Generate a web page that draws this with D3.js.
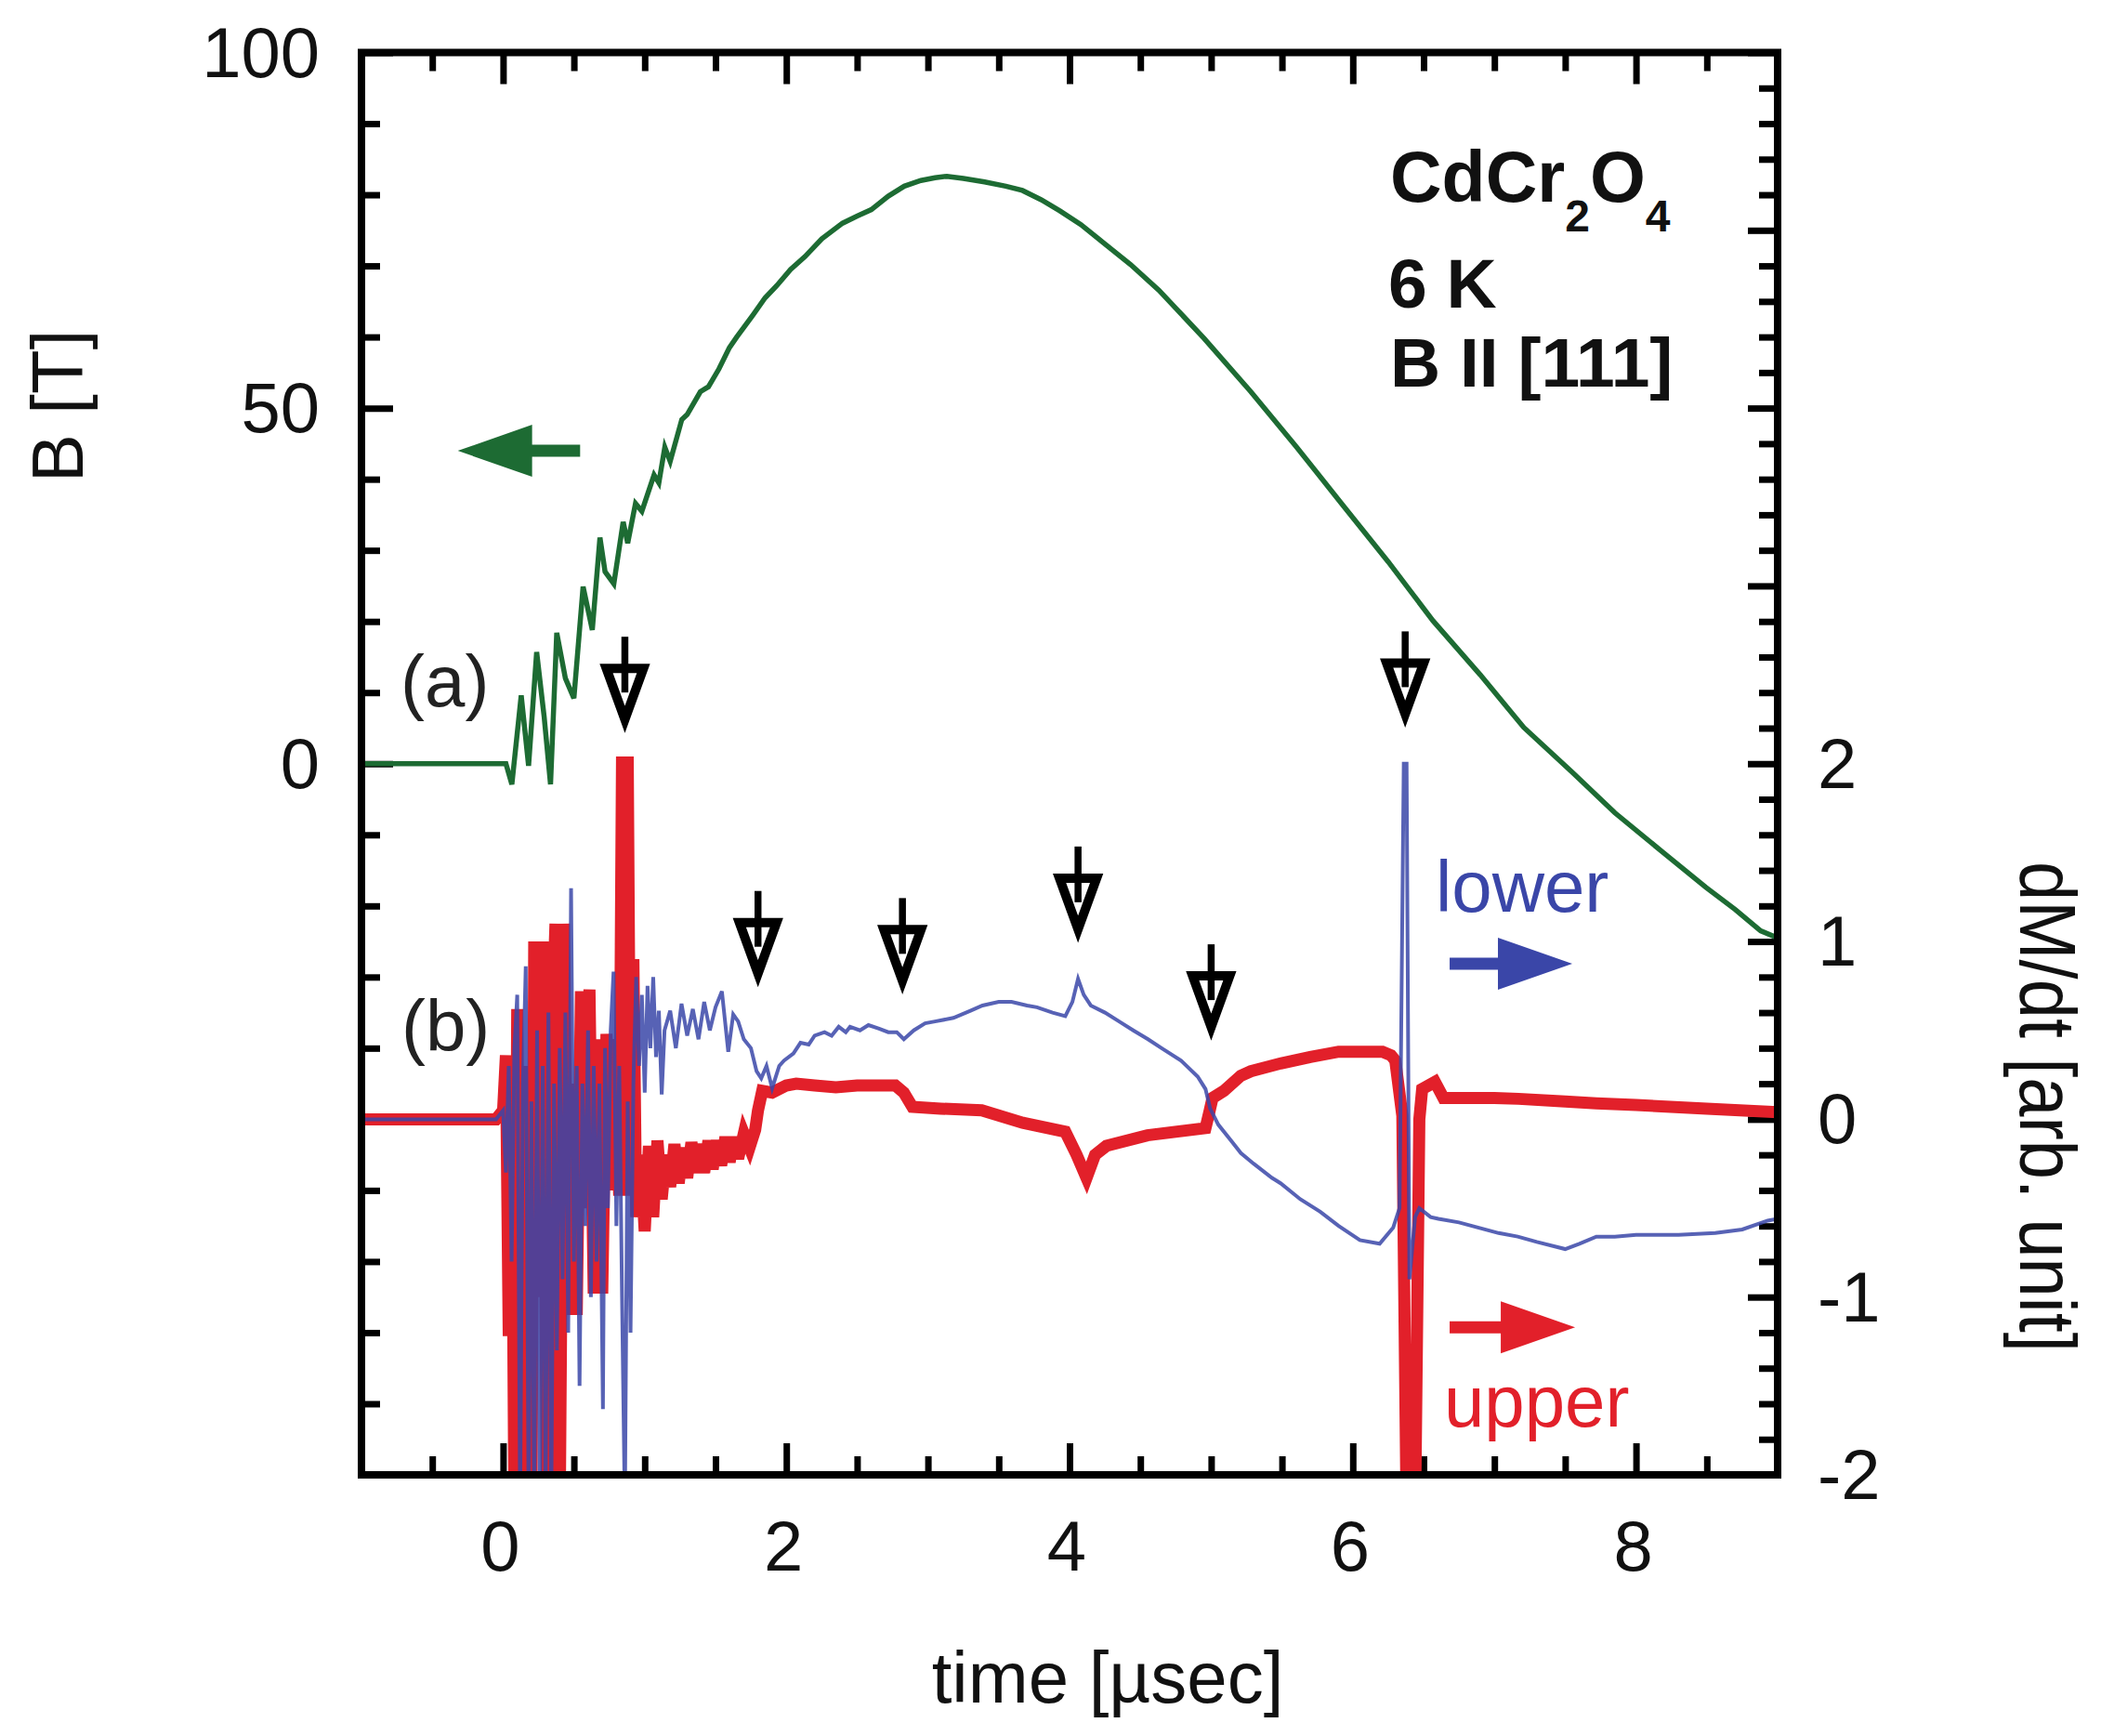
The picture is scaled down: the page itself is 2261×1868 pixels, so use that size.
<!DOCTYPE html>
<html>
<head>
<meta charset="utf-8">
<script src="https://cdn.jsdelivr.net/npm/d3@7"></script>
<style>
  body { margin: 0; background: #fff; }
  text { font-family: "Liberation Sans", Arial, Helvetica, sans-serif; }
</style>
</head>
<body>
<svg id="main"></svg>
<script>

// field B(t), left axis [T]
var tB = [-1, 0.0, 0.02, 0.062, 0.128, 0.18, 0.237, 0.29, 0.335, 0.379, 0.44, 0.5, 0.565, 0.63, 0.684, 0.72, 0.782, 0.848, 0.88, 0.935, 0.98,
  1.066, 1.10, 1.142, 1.18, 1.262, 1.30, 1.393, 1.45, 1.524, 1.598, 1.65, 1.765, 1.85, 1.932, 2.03, 2.132, 2.25, 2.397, 2.5, 2.6, 2.72,
  2.833, 2.95, 3.05, 3.134, 3.25, 3.4, 3.55, 3.667, 3.8, 3.934, 4.08, 4.23, 4.43, 4.63, 4.95, 5.28, 5.6, 5.92, 6.25, 6.566, 6.9, 7.207,
  7.55, 7.85, 8.18, 8.494, 8.7, 8.88, 9.0];
var fieldB = [0, 0, 0, -2.9, 9.6, -0.3, 15.7, 6.6, -2.9, 18.4, 12, 9.2, 24.9, 18.8, 31.8, 27, 25.3, 34, 31, 36.6, 35.5,
  40.6, 39.5, 44.5, 42.5, 48.4, 49.1, 52.3, 53, 55.5, 58.5, 60, 63.1, 65.5, 67.2, 69.5, 71.3, 73.8, 76, 77, 77.9, 79.8,
  81.2, 82, 82.4, 82.6, 82.3, 81.8, 81.2, 80.6, 79.3, 77.7, 75.8, 73.4, 70.2, 66.6, 59.8, 52.3, 44.6, 36.6, 28.4, 20.1, 12.5, 5.1,
  -1.2, -6.9, -12.3, -17.4, -20.5, -23.5, -24.5];

// dM/dt, upper coil (red), right axis
var tUpper = [-1, -0.05, 0.0, 0.02, 0.04, 0.06, 0.08, 0.10, 0.12, 0.14, 0.16, 0.18, 0.20, 0.22, 0.25, 0.28, 0.31, 0.34, 0.37, 0.40,
  0.43, 0.46, 0.49, 0.52, 0.55, 0.58, 0.61, 0.64, 0.67, 0.70, 0.73, 0.76, 0.79, 0.82, 0.84, 0.86, 0.88, 0.90, 0.92, 0.94, 0.97,
  1.00, 1.03, 1.06, 1.09, 1.12, 1.15, 1.18, 1.21, 1.24, 1.27, 1.30, 1.33, 1.36, 1.39, 1.42, 1.45, 1.48, 1.51, 1.54, 1.57, 1.60,
  1.63, 1.66, 1.70, 1.74, 1.78, 1.80, 1.83, 1.90, 2.00, 2.07, 2.20, 2.35, 2.50, 2.65, 2.77, 2.83, 2.89, 3.09, 3.38, 3.67, 3.97,
  4.05, 4.12, 4.18, 4.26, 4.55, 4.96, 4.99, 5.01, 5.09, 5.21, 5.28, 5.49, 5.70, 5.90, 6.21, 6.27, 6.30, 6.35, 6.38, 6.44, 6.47,
  6.49, 6.58, 6.64, 7.00, 7.17, 7.50, 7.72, 8.00, 8.50, 9.00];
var dmUpper = [0, 0, 0.05, 0.36, -1.22, 0.3, -2.2, 0.62, -1.27, 0.2, -2.2, 0.3, -2.2, 1.0, -1.0, 1.0, -2.2, 0.4, 1.1, -2.2,
  1.1, -1.1, 0.2, -1.1, 0.72, -0.5, 0.73, -0.98, 0.45, -0.98, 0.48, -0.4, 0.45, -0.43, 2.04, -0.43, 2.04, -0.43, 0.9, -0.55, -0.2,
  -0.63, -0.15, -0.55, -0.12, -0.45, -0.2, -0.38, -0.14, -0.36, -0.16, -0.33, -0.13, -0.3, -0.14, -0.3, -0.12, -0.28, -0.12, -0.26, -0.1, -0.24,
  -0.1, -0.22, -0.08, -0.16, -0.06, 0.05, 0.16, 0.15, 0.19, 0.20, 0.19, 0.18, 0.19, 0.19, 0.19, 0.15, 0.07, 0.06, 0.05, -0.02, -0.07,
  -0.2, -0.33, -0.2, -0.15, -0.09, -0.05, 0.05, 0.12, 0.16, 0.245, 0.27, 0.314, 0.35, 0.38, 0.38, 0.36, 0.33, 0.02, -2.2, -2.2, 0.0,
  0.17, 0.21, 0.12, 0.12, 0.115, 0.10, 0.09, 0.08, 0.06, 0.04];

// dM/dt, lower coil (blue), right axis
var tLower = [-1, -0.05, 0.00, 0.02, 0.04, 0.06, 0.08, 0.10, 0.12, 0.14, 0.16, 0.18, 0.20, 0.22, 0.24, 0.26, 0.28, 0.30, 0.32, 0.34,
  0.36, 0.38, 0.40, 0.42, 0.44, 0.46, 0.48, 0.50, 0.52, 0.54, 0.56, 0.58, 0.60, 0.62, 0.64, 0.66, 0.68, 0.705, 0.72, 0.74, 0.76,
  0.78, 0.80, 0.82, 0.84, 0.86, 0.88, 0.90, 0.92, 0.94, 0.96, 0.98, 1.00, 1.02, 1.04, 1.06, 1.08, 1.10, 1.12, 1.14, 1.18, 1.22,
  1.26, 1.30, 1.34, 1.38, 1.42, 1.46, 1.50, 1.545, 1.59, 1.625, 1.66, 1.70, 1.75, 1.79, 1.823, 1.86, 1.90, 1.95, 1.984, 2.05, 2.10,
  2.158, 2.20, 2.27, 2.32, 2.37, 2.42, 2.45, 2.52, 2.58, 2.655, 2.72, 2.78, 2.83, 2.90, 2.98, 3.05, 3.18, 3.30, 3.385, 3.50, 3.59,
  3.70, 3.77, 3.88, 3.97, 4.02, 4.06, 4.10, 4.15, 4.25, 4.35, 4.45, 4.554, 4.65, 4.788, 4.905, 4.96, 4.993, 5.05, 5.14, 5.21, 5.30,
  5.43, 5.49, 5.63, 5.77, 5.90, 6.05, 6.19, 6.285, 6.33, 6.36, 6.38, 6.40, 6.44, 6.47, 6.55, 6.605, 6.75, 6.89, 7.03, 7.165, 7.30,
  7.50, 7.60, 7.72, 7.85, 8.00, 8.30, 8.56, 8.75, 8.93, 9.00];
var dmLower = [0, 0, 0.05, -0.3, 0.3, -0.8, 0.4, 0.7, -2.2, 0.2, 0.86, -2.2, 0.1, -2.2, 0.5, -2.2, 0.3, -2.2, 0.6, -2.2,
  0.2, -1.3, 0.4, -0.9, 0.6, -1.2, 1.3, -0.8, 0.3, -1.5, 0.2, -0.6, 0.5, -1.0, 0.3, -0.8, 0.2, -1.63, 0.4, -0.5, 0.5,
  0.83, -0.6, 0.3, -1.0, -2.2, 0.1, -1.2, 0.2, 0.8, 0.3, 0.7, 0.15, 0.75, 0.4, 0.8, 0.35, 0.61, 0.14, 0.5, 0.61, 0.40,
  0.65, 0.47, 0.62, 0.45, 0.66, 0.50, 0.63, 0.72, 0.38, 0.59, 0.55, 0.45, 0.40, 0.27, 0.23, 0.30, 0.175, 0.30, 0.33, 0.37, 0.43,
  0.42, 0.47, 0.49, 0.47, 0.52, 0.49, 0.52, 0.50, 0.53, 0.51, 0.49, 0.49, 0.45, 0.50, 0.54, 0.55, 0.57, 0.61, 0.64, 0.66, 0.66,
  0.64, 0.63, 0.60, 0.58, 0.66, 0.79, 0.70, 0.64, 0.60, 0.55, 0.50, 0.45, 0.40, 0.33, 0.24, 0.17, 0.06, -0.03, -0.12, -0.19, -0.25,
  -0.33, -0.36, -0.45, -0.52, -0.60, -0.68, -0.70, -0.61, -0.5, 2.0, 2.0, -0.9, -0.55, -0.5, -0.55, -0.56, -0.58, -0.61, -0.64, -0.66, -0.69,
  -0.73, -0.70, -0.66, -0.66, -0.65, -0.65, -0.64, -0.62, -0.57, -0.56];

// transition markers: time and height of the arrow tip (right axis units)
var arrowT = [0.86, 1.80, 2.82, 4.06, 5.00, 6.37];
var arrowTip = [2.16, 0.73, 0.69, 0.98, 0.43, 2.19];

var xTicks = [0, 2, 4, 6, 8];
var leftTicks = [0, 50, 100];
var rightTicks = [-2, -1, 0, 1, 2];

var chart = {
  width: 2261,
  height: 1868,
  left: 389,
  right: 1913,
  top: 56.5,
  bottom: 1587,
  font: 76
}

var svg = d3.select("#main")
  .attr("width", chart.width)
  .attr("height", chart.height)

svg.append("rect").attr("width", chart.width).attr("height", chart.height).attr("fill", "#fff")

var x = d3.scaleLinear().domain([-1, 9]).range([chart.left, chart.right])
var yL = d3.scaleLinear().domain([-100, 100]).range([chart.bottom, chart.top])
var yR = d3.scaleLinear().domain([-2, 6]).range([chart.bottom, chart.top])

svg.append("clipPath").attr("id", "plotclip")
  .append("rect")
  .attr("x", chart.left).attr("y", chart.top)
  .attr("width", chart.right - chart.left).attr("height", chart.bottom - chart.top)

// tick marks, all pointing inward
function tickMarks(axisFn, scale, values, size, transform) {
  var g = svg.append("g")
    .attr("transform", transform)
    .call(axisFn(scale).tickValues(values).tickSize(-size).tickFormat(""))
  g.select(".domain").remove()
  g.selectAll(".tick line").attr("stroke", "#000").attr("stroke-width", 7)
}

var xMinor = d3.range(-2, 19).map(function(i) { return i / 2 }).filter(function(v) { return xTicks.indexOf(v) < 0 })
var lMinor = d3.range(-10, 11).map(function(i) { return i * 10 }).filter(function(v) { return v % 50 != 0 })
var lMajor = [-100, -50, 0, 50, 100]
var rMinor = d3.range(-10, 31).map(function(i) { return i / 5 }).filter(function(v) { return Math.abs(v - Math.round(v)) > 1e-6 })
var rMajor = d3.range(-2, 7)

tickMarks(d3.axisBottom, x, xMinor, 20, "translate(0," + chart.bottom + ")")
tickMarks(d3.axisBottom, x, xTicks, 34, "translate(0," + chart.bottom + ")")
tickMarks(d3.axisTop, x, xMinor, 20, "translate(0," + chart.top + ")")
tickMarks(d3.axisTop, x, xTicks, 34, "translate(0," + chart.top + ")")
tickMarks(d3.axisLeft, yL, lMinor, 20, "translate(" + chart.left + ",0)")
tickMarks(d3.axisLeft, yL, lMajor, 34, "translate(" + chart.left + ",0)")
tickMarks(d3.axisRight, yR, rMinor, 20, "translate(" + chart.right + ",0)")
tickMarks(d3.axisRight, yR, rMajor, 32, "translate(" + chart.right + ",0)")

// curves
var plot = svg.append("g").attr("clip-path", "url(#plotclip)")

var lineB = d3.line().x(function(d) { return x(d[0]) }).y(function(d) { return yL(d[1]) })
var lineR = d3.line().x(function(d) { return x(d[0]) }).y(function(d) { return yR(d[1]) })

plot.append("path")
  .datum(d3.zip(tUpper, dmUpper))
  .attr("d", lineR)
  .attr("fill", "none")
  .attr("stroke", "#e2202a")
  .attr("stroke-width", 13)
  .attr("stroke-linejoin", "miter")

plot.append("path")
  .datum(d3.zip(tLower, dmLower))
  .attr("d", lineR)
  .attr("fill", "none")
  .attr("stroke", "#3a46a8")
  .attr("stroke-width", 4)
  .attr("stroke-opacity", 0.85)

plot.append("path")
  .datum(d3.zip(tB, fieldB))
  .attr("d", lineB)
  .attr("fill", "none")
  .attr("stroke", "#1d6b33")
  .attr("stroke-width", 5.5)

// open-headed down arrows marking transitions
arrowT.forEach(function(t, i) {
  var cx = x(t), tip = yR(arrowTip[i])
  svg.append("path")
    .attr("d", "M" + (cx - 20) + "," + (tip - 72) + "L" + (cx + 20) + "," + (tip - 72) + "L" + cx + "," + (tip - 17) + "Z")
    .attr("fill", "#fff")
    .attr("stroke", "#000")
    .attr("stroke-width", 10)
    .attr("stroke-linejoin", "miter")
  svg.append("line")
    .attr("x1", cx).attr("x2", cx)
    .attr("y1", tip - 106).attr("y2", tip - 46)
    .attr("stroke", "#000").attr("stroke-width", 7.5)
})

// block arrows telling which axis belongs to which curve
function blockArrow(x1, x2, y, color) {
  var dir = x2 > x1 ? 1 : -1
  var hb = x2 - dir * 80
  var pts = [[x1, y - 6.5], [hb, y - 6.5], [hb, y - 28], [x2, y], [hb, y + 28], [hb, y + 6.5], [x1, y + 6.5]]
  svg.append("path").attr("d", d3.line()(pts) + "Z").attr("fill", color)
}
blockArrow(x(0.544), x(-0.32), yL(44), "#1d6b33")
blockArrow(x(6.684), x(7.55), yR(0.875), "#3a46a8")
blockArrow(x(6.684), x(7.57), yR(-1.17), "#e2202a")

// frame
svg.append("rect")
  .attr("x", chart.left).attr("y", chart.top)
  .attr("width", chart.right - chart.left).attr("height", chart.bottom - chart.top)
  .attr("fill", "none").attr("stroke", "#000").attr("stroke-width", 8)

// tick labels
svg.selectAll(".xl").data(xTicks).enter().append("text")
  .attr("x", function(d) { return x(d) - 3 }).attr("y", 1690)
  .attr("text-anchor", "middle").attr("font-size", chart.font).attr("fill", "#111")
  .text(function(d) { return d })

svg.selectAll(".ll").data(leftTicks).enter().append("text")
  .attr("x", 344).attr("y", function(d) { return yL(d) + 26 })
  .attr("text-anchor", "end").attr("font-size", chart.font).attr("fill", "#111")
  .text(function(d) { return d })

svg.selectAll(".rl").data(rightTicks).enter().append("text")
  .attr("x", 1956).attr("y", function(d) { return yR(d) + 26 })
  .attr("text-anchor", "start").attr("font-size", chart.font).attr("fill", "#111")
  .text(function(d) { return d < 0 ? "-" + Math.abs(d) : d })

// axis titles
svg.append("text")
  .attr("transform", "translate(1192,1832)")
  .attr("text-anchor", "middle").attr("font-size", 78).attr("fill", "#111")
  .text("time [\u00b5sec]")

svg.append("text")
  .attr("transform", "translate(89,437) rotate(-90)")
  .attr("text-anchor", "middle").attr("font-size", 78).attr("fill", "#111")
  .text("B [T]")

svg.append("text")
  .attr("transform", "translate(2174,1191) rotate(90) scale(1,1.12)")
  .attr("text-anchor", "middle").attr("font-size", 76).attr("fill", "#111")
  .text("dM/dt [arb. unit]")

// panel labels and curve names
svg.append("text").attr("x", x(-0.724)).attr("y", yL(8.07))
  .attr("font-size", 78).attr("fill", "#222").text("(a)")
svg.append("text").attr("x", x(-0.718)).attr("y", yR(0.383))
  .attr("font-size", 78).attr("fill", "#222").text("(b)")
svg.append("text").attr("x", x(6.585)).attr("y", yR(1.17))
  .attr("font-size", 78).attr("fill", "#3a46a8").text("lower")
svg.append("text").attr("x", x(6.644)).attr("y", yR(-1.73))
  .attr("font-size", 78).attr("fill", "#e2202a").text("upper")

// sample info
var info = svg.append("g").attr("font-weight", "bold").attr("fill", "#111")
var formula = info.append("text").attr("x", 1496).attr("y", 217).attr("font-size", 77)
formula.append("tspan").text("CdCr")
formula.append("tspan").attr("font-size", 48).attr("dy", 32).text("2")
formula.append("tspan").attr("dy", -32).text("O")
formula.append("tspan").attr("font-size", 48).attr("dy", 32).text("4")
info.append("text").attr("x", 1494).attr("y", 331).attr("font-size", 75).text("6 K")
info.append("text").attr("x", 1496).attr("y", 416).attr("font-size", 75).text("B II [111]")

</script>
</body>
</html>
